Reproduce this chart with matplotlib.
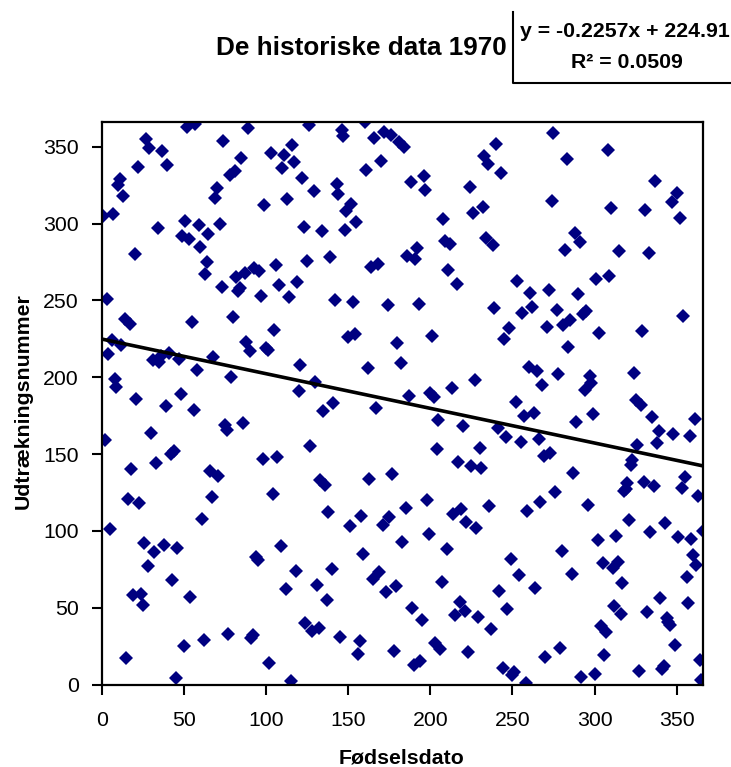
"""
1970 draft lottery: birth date (day of year) vs. drawn number, with linear trend.
"""
import numpy as np
import matplotlib.pyplot as plt
from matplotlib.lines import Line2D

plt.rcParams["font.family"] = ["Liberation Sans", "DejaVu Sans"]

# drawn number for each birth date, month by month (leap year, 366 days)
jan = [305, 159, 251, 215, 101, 224, 306, 199, 194, 325, 329, 221, 318, 238, 17, 121,
       235, 140, 58, 280, 186, 337, 118, 59, 52, 92, 355, 77, 349, 164, 211]
feb = [86, 144, 297, 210, 214, 347, 91, 181, 338, 216, 150, 68, 152, 4, 89, 212,
       189, 292, 25, 302, 363, 290, 57, 236, 179, 365, 205, 299, 285]
mar = [108, 29, 267, 275, 293, 139, 122, 213, 317, 323, 136, 300, 259, 354, 169, 166,
       33, 332, 200, 239, 334, 265, 256, 258, 343, 170, 268, 223, 362, 217, 30]
apr = [32, 271, 83, 81, 269, 253, 147, 312, 219, 218, 14, 346, 124, 231, 273, 148,
       260, 90, 336, 345, 62, 316, 252, 2, 351, 340, 74, 262, 191, 208]
may = [330, 298, 40, 276, 364, 155, 35, 321, 197, 65, 37, 133, 295, 178, 130, 55,
       112, 278, 75, 183, 250, 326, 319, 31, 361, 357, 296, 308, 226, 103, 313]
jun = [249, 228, 301, 20, 28, 110, 85, 366, 335, 206, 134, 272, 69, 356, 180, 274,
       73, 341, 104, 360, 60, 247, 109, 358, 137, 22, 64, 222, 353, 209]
jul = [93, 350, 115, 279, 188, 327, 50, 13, 277, 284, 248, 15, 42, 331, 322, 120,
       98, 190, 227, 187, 27, 153, 172, 23, 67, 303, 289, 88, 270, 287, 193]
aug = [111, 45, 261, 145, 54, 114, 168, 48, 106, 21, 324, 142, 307, 198, 102, 44,
       154, 141, 311, 344, 291, 339, 116, 36, 286, 245, 352, 167, 61, 333, 11]
sep = [225, 161, 49, 232, 82, 6, 8, 184, 263, 71, 158, 242, 175, 1, 113, 207,
       255, 246, 177, 63, 204, 160, 119, 195, 149, 18, 233, 257, 151, 315]
okt = [359, 125, 244, 202, 24, 87, 234, 283, 342, 220, 237, 72, 138, 294, 171, 254,
       288, 5, 241, 192, 243, 117, 201, 196, 176, 7, 264, 94, 229, 38, 79]
nov = [19, 34, 348, 266, 310, 76, 51, 97, 80, 282, 46, 66, 126, 127, 131, 107,
       143, 146, 203, 185, 156, 9, 182, 230, 132, 309, 47, 281, 99, 174]
dec = [129, 328, 157, 165, 56, 10, 12, 105, 43, 41, 39, 314, 163, 26, 320, 96,
       304, 128, 240, 135, 70, 53, 162, 95, 84, 173, 78, 123, 16, 3, 100]

numbers = np.array(jan + feb + mar + apr + may + jun + jul + aug + sep + okt + nov + dec)
days = np.arange(1, len(numbers) + 1)

title = "De historiske data 1970"
xlabel = "Fødselsdato"
ylabel = "Udtrækningsnummer"
ticks = [0, 50, 100, 150, 200, 250, 300, 350]

# linear trend
slope, icept = np.polyfit(days, numbers, 1)
r2 = np.corrcoef(days, numbers)[0, 1] ** 2

W, H = 731, 767
fig = plt.figure(figsize=(W / 100, H / 100), dpi=100)
ax = fig.add_axes([101.7 / W, 82.5 / H, 601.3 / W, 562.2 / H])

ax.plot(days, numbers, linestyle="none", marker="D", markersize=7,
        color="#000080", markeredgewidth=0, zorder=2)
xs = np.array([0, len(numbers)])
ax.plot(xs, slope * xs + icept, color="black", linewidth=2.6, zorder=3)

ax.set_xlim(0, 366)
ax.set_ylim(0, 366)
ax.set_xticks(ticks)
ax.set_yticks(ticks)
ax.tick_params(direction="out", length=7, width=1.5, labelsize=15.3)
ax.tick_params(axis="x", pad=12)
ax.tick_params(axis="y", pad=9.5)
for sp in ax.spines.values():
    sp.set_linewidth(1.6)

fig.text(361 / W, 1 - 55 / H, title, ha="center", va="baseline",
         fontsize=18.8, fontweight="bold")
fig.text(624.5 / W, 1 - 36.7 / H, f"y = {slope:.4f}x + {icept:.2f}",
         ha="center", va="baseline", fontsize=15.3, fontweight="bold")
fig.text(626.7 / W, 1 - 68 / H, f"R² = {r2:.4f}",
         ha="center", va="baseline", fontsize=15.3, fontweight="bold")
fig.add_artist(Line2D([513.3 / W, 513.3 / W, 1.0], [1 - 11.7 / H, 1 - 83 / H, 1 - 83 / H],
                      color="black", linewidth=1.5))

fig.text(23 / W, 1 - 401.5 / H, ylabel, rotation=90, ha="center", va="center",
         fontsize=15.3, fontweight="bold")
fig.text(402 / W, 1 - 763 / H, xlabel, ha="center", va="baseline",
         fontsize=15.3, fontweight="bold")

fig.savefig("out.png", dpi=100, facecolor="white")
